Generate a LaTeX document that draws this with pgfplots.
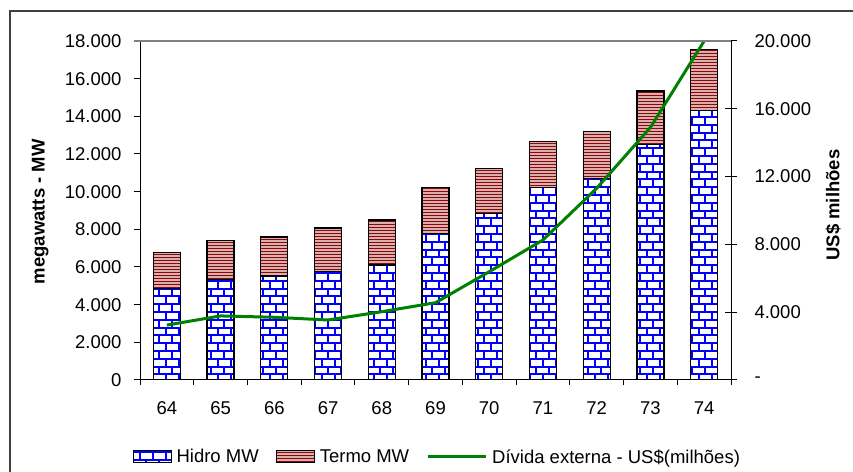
\documentclass[border=0pt]{standalone}
\usepackage{fontspec}
\setmainfont{Liberation Sans}
\usepackage{pgfplots}
\pgfplotsset{compat=1.18}
\usetikzlibrary{patterns}
\definecolor{hidroblue}{RGB}{0,0,255}
\definecolor{termored}{RGB}{135,10,10}
\definecolor{termopink}{RGB}{220,175,175}
\definecolor{dividagreen}{RGB}{0,128,0}
\definecolor{framegray}{RGB}{64,64,64}

% brick pattern for the Hidro bars (tiles overlap a little, no seams)
\pgfdeclarepatternformonly{hidrobricks}{\pgfpoint{-1bp}{-1bp}}{\pgfpoint{14bp}{16.6bp}}{\pgfpoint{13bp}{15.6bp}}{%
  \pgfsetlinewidth{2bp}%
  \pgfpathmoveto{\pgfpoint{-1bp}{3.9bp}}\pgfpathlineto{\pgfpoint{14bp}{3.9bp}}%
  \pgfpathmoveto{\pgfpoint{-1bp}{11.7bp}}\pgfpathlineto{\pgfpoint{14bp}{11.7bp}}%
  \pgfpathmoveto{\pgfpoint{3.25bp}{3.9bp}}\pgfpathlineto{\pgfpoint{3.25bp}{11.7bp}}%
  \pgfpathmoveto{\pgfpoint{9.75bp}{11.7bp}}\pgfpathlineto{\pgfpoint{9.75bp}{16.6bp}}%
  \pgfpathmoveto{\pgfpoint{9.75bp}{-1bp}}\pgfpathlineto{\pgfpoint{9.75bp}{3.9bp}}%
  \pgfusepath{stroke}%
}
% horizontal stripes for the Termo bars
\pgfdeclarepatternformonly{termostripes}{\pgfpoint{-1bp}{0bp}}{\pgfpoint{11bp}{3bp}}{\pgfpoint{10bp}{3bp}}{%
  \pgfsetlinewidth{1.7bp}%
  \pgfpathmoveto{\pgfpoint{-1bp}{1.5bp}}\pgfpathlineto{\pgfpoint{11bp}{1.5bp}}%
  \pgfusepath{stroke}%
}

\newcommand{\chartfont}{\fontsize{18.5bp}{22bp}\selectfont}

\begin{document}
\begin{tikzpicture}
\useasboundingbox (0,0) rectangle (853bp,472bp);
\draw[framegray, line width=1.8bp] (10bp,0bp) -- (10bp,461.3bp) -- (853bp,461.3bp);

\begin{axis}[
    name=main,
    at={(140bp,92bp)}, anchor=south west,
    scale only axis, width=591bp, height=339bp,
    xmin=-0.5, xmax=10.5, ymin=0, ymax=18000,
    ybar stacked, bar width=27bp,
    axis x line*=bottom, axis y line*=left,
    axis line style={-, black, line width=1bp},
    xtick={0,...,10},
    xticklabels={64,65,66,67,68,69,70,71,72,73,74},
    major x tick style={draw=none},
    minor xtick={-0.5,0.5,...,10.5},
    ytick={0,2000,...,18000},
    scaled y ticks=false,
    tick align=outside,
    major tick length=6bp, minor tick length=5bp,
    tick style={black, line width=1bp},
    tick label style={font=\chartfont},
    xticklabel style={yshift=-12bp},
    yticklabel style={xshift=-9bp, /pgf/number format/1000 sep={.}, /pgf/number format/assume math mode=true},
    ylabel={megawatts - MW},
    ylabel style={font=\chartfont\bfseries, at={(axis description cs:-0.169,0.496)}, anchor=center},
    legend style={at={(0.503,-0.227)}, anchor=center, legend columns=-1,
        draw=none, fill=none, font=\chartfont,
        /tikz/every odd column/.append style={column sep=3bp},
        /tikz/every even column/.append style={column sep=15bp}},
]
\addplot[draw=black, line width=1.2bp, fill=white,
    postaction={pattern=hidrobricks, pattern color=hidroblue},
    legend image code/.code={\draw[draw=black, line width=1bp, fill=white, postaction={pattern=hidrobricks, pattern color=hidroblue}] (0bp,-6bp) rectangle (38bp,6bp);}]
    coordinates {(0,4870) (1,5350) (2,5520) (3,5750) (4,6110) (5,7790)
                 (6,8820) (7,10230) (8,10710) (9,12500) (10,14300)};
\addlegendentry{Hidro MW}
\addplot[draw=black, line width=1.2bp, fill=termopink,
    postaction={pattern=termostripes, pattern color=termored},
    legend image code/.code={\draw[draw=black, line width=1bp, fill=termopink, postaction={pattern=termostripes, pattern color=termored}] (0bp,-6bp) rectangle (38bp,6bp);}]
    coordinates {(0,1910) (1,2070) (2,2070) (3,2320) (4,2390) (5,2440)
                 (6,2420) (7,2430) (8,2480) (9,2850) (10,3240)};
\addlegendentry{Termo MW}
\addlegendimage{legend image code/.code={\draw[dividagreen, line width=3bp] (0bp,0bp) -- (58bp,0bp);}}
\addlegendentry{Dívida externa - US\$(milhões)}
\end{axis}

\begin{axis}[
    at={(140bp,92bp)}, anchor=south west,
    scale only axis, width=591bp, height=339bp,
    xmin=-0.5, xmax=10.5, ymin=0, ymax=20000,
    axis y line*=right, axis x line=none,
    axis line style={-, black, line width=1bp},
    ytick={0,4000,...,20000},
    yticklabels={-,4.000,8.000,12.000,16.000,20.000},
    scaled y ticks=false,
    tick align=center, major tick length=12bp,
    tick style={black, line width=1bp},
    tick label style={font=\chartfont},
    yticklabel style={xshift=14bp},
    ylabel={US\$ milhões},
    ylabel style={font=\chartfont\bfseries, at={(axis description cs:1.173,0.516)}, anchor=center},
]
\addplot[dividagreen, line width=3bp, no markers]
    coordinates {(0,3240) (1,3780) (2,3700) (3,3540) (4,4030) (5,4560)
                 (6,6390) (7,8260) (8,11310) (9,14900) (10,20000)};
\end{axis}

\draw[gray, line width=1.5bp] ([xshift=-6bp]main.north west) -- (main.north east);
\end{tikzpicture}
\end{document}
